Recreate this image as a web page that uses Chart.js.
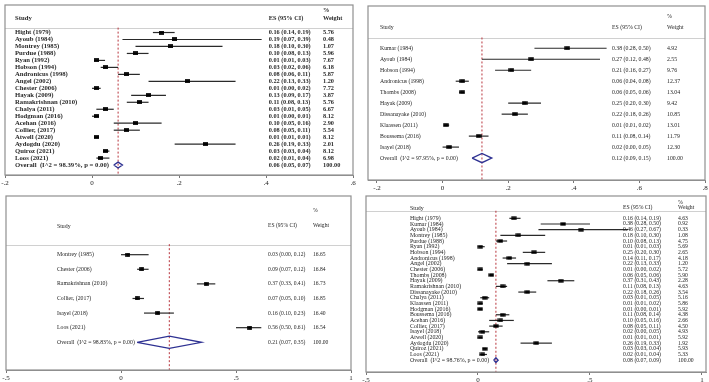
<!DOCTYPE html>
<html lang="en">
<head>
<meta charset="UTF-8" />
<title>Forest plots</title>
<script src="https://cdn.jsdelivr.net/npm/chart.js"></script>
<style>
  html, body { margin: 0; padding: 0; background: #fff; overflow: hidden; }
  #wrap { position: relative; width: 709px; height: 382px; overflow: hidden; }
  #wrap canvas { position: absolute; }
</style>
</head>
<body>
<div id="wrap"></div>
<script>
// ---- panel A (top left) ----
const aStudies = ['Hight (1979)', 'Ayoub (1984)', 'Montrey (1985)', 'Purdue (1988)', 'Ryan (1992)', 'Hobson (1994)',
  'Andronicus (1998)', 'Angel (2002)', 'Chester (2006)', 'Hayak (2009)', 'Ramakrishnan (2010)', 'Chalya (2011)',
  'Hodgman (2016)', 'Acehan (2016)', 'Collier, (2017)', 'Atwell (2020)', 'Aydogdu (2020)', 'Quiroz (2021)', 'Loos (2021)'];
const aEs = [0.16, 0.19, 0.18, 0.10, 0.01, 0.03, 0.08, 0.22, 0.01, 0.13, 0.11, 0.03, 0.01, 0.10, 0.08, 0.01, 0.26, 0.03, 0.02];
const aLo = [0.14, 0.07, 0.10, 0.08, 0.01, 0.02, 0.06, 0.13, 0.00, 0.09, 0.08, 0.01, 0.00, 0.05, 0.05, 0.01, 0.19, 0.03, 0.01];
const aHi = [0.19, 0.39, 0.30, 0.13, 0.03, 0.06, 0.11, 0.33, 0.02, 0.17, 0.13, 0.05, 0.01, 0.16, 0.11, 0.01, 0.33, 0.04, 0.04];
const aWt = [5.76, 0.48, 1.07, 5.96, 7.67, 6.18, 5.87, 1.20, 7.72, 3.87, 5.76, 6.67, 8.12, 2.90, 5.54, 8.12, 2.01, 8.12, 6.98];
const aOverall = [0.06, 0.05, 0.07];
const aI2 = 98.39;
const aTicks = [-0.2, 0, 0.2, 0.4, 0.6];

// ---- panel B (top right) ----
const bStudies = ['Kumar (1984)', 'Ayoub (1984)', 'Hobson (1994)', 'Andronicus (1998)', 'Thombs (2008)', 'Hayak (2009)',
  'Dissanayake (2010)', 'Klaassen (2011)', 'Boussema (2016)', 'Isayel (2018)'];
const bEs = [0.38, 0.27, 0.21, 0.06, 0.06, 0.25, 0.22, 0.01, 0.11, 0.02];
const bLo = [0.28, 0.12, 0.16, 0.04, 0.05, 0.20, 0.18, 0.01, 0.08, 0.00];
const bHi = [0.50, 0.48, 0.27, 0.08, 0.06, 0.30, 0.26, 0.02, 0.14, 0.05];
const bWt = [4.92, 2.55, 9.76, 12.37, 13.04, 9.42, 10.85, 13.01, 11.79, 12.30];
const bOverall = [0.12, 0.09, 0.15];
const bI2 = 97.95;
const bTicks = [-0.2, 0, 0.2, 0.4, 0.6, 0.8];

// ---- panel C (bottom left) ----
const cStudies = ['Montrey (1985)', 'Chester (2006)', 'Ramakrishnan (2010)', 'Collier, (2017)', 'Isayel (2018)', 'Loos (2021)'];
const cEs = [0.03, 0.09, 0.37, 0.07, 0.16, 0.56];
const cLo = [0.00, 0.07, 0.33, 0.05, 0.10, 0.50];
const cHi = [0.12, 0.12, 0.41, 0.10, 0.23, 0.61];
const cWt = [16.65, 16.84, 16.73, 16.85, 16.40, 16.54];
const cOverall = [0.21, 0.07, 0.35];
const cI2 = 98.83;
const cTicks = [-0.5, 0, 0.5, 1];

// ---- panel D (bottom right) ----
const dStudies = ['Hight (1979)', 'Kumar (1984)', 'Ayoub (1984)', 'Montrey (1985)', 'Purdue (1988)', 'Ryan (1992)',
  'Hobson (1994)', 'Andronicus (1998)', 'Angel (2002)', 'Chester (2006)', 'Thombs (2008)', 'Hayak (2009)',
  'Ramakrishnan (2010)', 'Dissanayake (2010)', 'Chalya (2011)', 'Klaassen (2011)', 'Hodgman (2016)', 'Boussema (2016)',
  'Acehan (2016)', 'Collier, (2017)', 'Isayel (2018)', 'Atwell (2020)', 'Aydogdu (2020)', 'Quiroz (2021)', 'Loos (2021)'];
const dEs = [0.16, 0.38, 0.46, 0.18, 0.10, 0.01, 0.25, 0.14, 0.22, 0.01, 0.06, 0.37, 0.11, 0.22, 0.03, 0.01, 0.01, 0.11, 0.10, 0.08, 0.02, 0.01, 0.26, 0.03, 0.02];
const dLo = [0.14, 0.28, 0.27, 0.10, 0.08, 0.01, 0.20, 0.11, 0.13, 0.00, 0.05, 0.31, 0.08, 0.18, 0.01, 0.01, 0.00, 0.08, 0.05, 0.05, 0.00, 0.01, 0.19, 0.03, 0.01];
const dHi = [0.19, 0.50, 0.67, 0.30, 0.13, 0.03, 0.30, 0.17, 0.33, 0.02, 0.06, 0.43, 0.13, 0.26, 0.05, 0.02, 0.01, 0.14, 0.16, 0.11, 0.05, 0.01, 0.33, 0.04, 0.04];
const dWt = [4.63, 0.92, 0.33, 1.08, 4.75, 5.69, 2.65, 4.18, 1.20, 5.72, 5.90, 2.28, 4.63, 3.54, 5.16, 5.86, 5.92, 4.38, 2.66, 4.50, 4.93, 5.92, 1.92, 5.93, 5.33];
const dOverall = [0.08, 0.07, 0.09];
const dI2 = 98.76;
const dTicks = [-0.5, 0, 0.5, 1];

// page layout of each panel (pixels)
const layouts = {
  a: { box: [5, 2, 353, 175], xMin: -0.2, xMax: 0.6, row0: 30, step: 7.1, pctY: 7.3, hdrY: 15.7, lineY: 25,
       nameX: 15, esX: 268.7, wtX: 323, nameSize: 6.7, numSize: 6.3, weight: 'bold', mark: [5, 3.7] },
  b: { box: [368, 3, 705, 180], xMin: -0.2274, xMax: 0.8, row0: 46, step: 11.17, pctY: 13, hdrY: 24, lineY: 35,
       nameX: 380, esX: 612, wtX: 667, nameSize: 5.8, numSize: 5.8, weight: 'normal', mark: [5.5, 3.5] },
  c: { box: [6, 193, 351, 370], xMin: -0.5, xMax: 1.0, row0: 252.7, step: 14.85, pctY: 208, hdrY: 223, lineY: 242,
       nameX: 57, esX: 268, wtX: 313, nameSize: 5.8, numSize: 5.6, weight: 'normal', mark: [4.7, 3.7] },
  d: { box: [366, 193, 706, 372], xMin: -0.5, xMax: 1.018, row0: 215.7, step: 5.77, pctY: 200, hdrY: 205, lineY: 208,
       nameX: 410, esX: 623, wtX: 678, nameSize: 5.9, numSize: 5.7, weight: 'normal', mark: [5.3, 3.3] }
};

const SERIF = '"Liberation Serif", "DejaVu Serif", serif';
const PAD = 14, AXIS_H = 14;

const stataTick = v => {
  if (Math.abs(v) < 1e-9) return '0';
  return (v < 0 ? '-' : '') + Math.abs(v).toString().replace(/^0\./, '.');
};
const f2 = v => v.toFixed(2);

function boxMark(w, h) {
  const c = document.createElement('canvas');
  c.width = Math.ceil(w);
  c.height = Math.ceil(h);
  const g = c.getContext('2d');
  g.fillStyle = '#000';
  g.fillRect((c.width - w) / 2, (c.height - h) / 2, w, h);
  return c;
}

function decorPlugin(p, L) {
  const n = p.studies.length;
  const px = (chart, x) => chart.chartArea.left + (x - L.box[0]);
  const py = (chart, y) => chart.chartArea.top + (y - L.box[1]);
  return {
    id: 'decor',
    beforeDatasetsDraw(chart) {
      const { ctx, chartArea: a } = chart;
      ctx.save();
      ctx.strokeStyle = '#d0d0d0';
      ctx.lineWidth = 1;
      ctx.beginPath();
      ctx.moveTo(a.left, Math.round(py(chart, L.lineY)) + 0.5);
      ctx.lineTo(a.right, Math.round(py(chart, L.lineY)) + 0.5);
      ctx.stroke();
      ctx.restore();
    },
    afterDraw(chart) {
      const { ctx, chartArea: a, scales: { y } } = chart;
      ctx.save();
      ctx.strokeStyle = '#8f8f8f';
      ctx.lineWidth = 1.2;
      ctx.strokeRect(a.left, a.top, a.right - a.left, a.bottom - a.top);

      ctx.fillStyle = L.weight === 'bold' ? '#2a2a2a' : '#1e1e1e';
      ctx.textBaseline = 'middle';
      ctx.textAlign = 'left';
      const nameFont = `${L.weight} ${L.nameSize}px ${SERIF}`;
      const numFont = `${L.weight} ${L.numSize}px ${SERIF}`;
      // header
      ctx.font = nameFont;
      ctx.fillText('Study', px(chart, L.nameX), py(chart, L.hdrY));
      ctx.font = numFont;
      ctx.fillText('ES (95% CI)', px(chart, L.esX), py(chart, L.hdrY));
      ctx.fillText('%', px(chart, L.wtX), py(chart, L.pctY));
      ctx.fillText('Weight', px(chart, L.wtX), py(chart, L.hdrY));
      // rows
      for (let i = 0; i <= n; i++) {
        const yy = y.getPixelForValue(i);
        const last = i === n;
        const name = last ? `Overall  (I^2 = ${f2(p.i2)}%, p = 0.00)` : p.studies[i];
        const es = last ? p.overall : [p.es[i], p.lo[i], p.hi[i]];
        const wt = last ? '100.00' : f2(p.wt[i]);
        ctx.font = nameFont;
        ctx.fillText(name, px(chart, L.nameX), yy);
        ctx.font = numFont;
        ctx.fillText(`${f2(es[0])} (${f2(es[1])}, ${f2(es[2])})`, px(chart, L.esX), yy);
        ctx.fillText(wt, px(chart, L.wtX), yy);
      }
      ctx.restore();
    }
  };
}

function drawPanel(p, L) {
  const [bl, bt, br, bb] = L.box;
  const canvas = document.createElement('canvas');
  const w = br - bl + 2 * PAD;
  const h = bb - bt + 2 + AXIS_H;
  canvas.width = w;
  canvas.height = h;
  canvas.style.left = (bl - PAD) + 'px';
  canvas.style.top = (bt - 2) + 'px';
  document.getElementById('wrap').appendChild(canvas);

  const n = p.studies.length;
  const yMin = (bt - L.row0) / L.step;
  const yMax = (bb - L.row0) / L.step;
  const lineRow = (L.lineY - L.row0) / L.step;
  const dh = 0.42;
  const [ov, ovLo, ovHi] = p.overall;

  const datasets = [];
  datasets.push({
    data: p.es.map((v, i) => ({ x: v, y: i })),
    pointStyle: boxMark(L.mark[0], L.mark[1]),
    pointRadius: 3,
    showLine: false,
    order: 0
  });
  datasets.push({
    data: [{ x: ovLo, y: n }, { x: ov, y: n - dh }, { x: ovHi, y: n }, { x: ov, y: n + dh }, { x: ovLo, y: n }],
    showLine: true,
    borderColor: '#2e3192',
    borderWidth: 1.3,
    pointRadius: 0,
    order: 1
  });
  p.lo.forEach((lo, i) => {
    datasets.push({
      data: [{ x: lo, y: i }, { x: p.hi[i], y: i }],
      showLine: true,
      borderColor: '#2a2a2a',
      borderWidth: 1.2,
      pointRadius: 0,
      order: 2
    });
  });
  datasets.push({
    data: [{ x: ov, y: lineRow }, { x: ov, y: yMax }],
    showLine: true,
    borderColor: '#b8343c',
    borderWidth: 1,
    borderDash: [2, 2],
    pointRadius: 0,
    order: 3
  });

  new Chart(canvas, {
    type: 'scatter',
    data: { datasets },
    options: {
      responsive: false,
      animation: false,
      events: [],
      layout: { padding: { left: PAD, right: PAD, top: 2, bottom: 0 } },
      plugins: { legend: { display: false }, tooltip: { enabled: false } },
      scales: {
        x: {
          type: 'linear',
          min: L.xMin,
          max: L.xMax,
          afterBuildTicks: s => { s.ticks = p.ticks.map(v => ({ value: v })); },
          afterFit: s => { s.height = AXIS_H; },
          grid: { drawOnChartArea: false, tickLength: 3, color: '#777' },
          border: { color: '#8f8f8f' },
          ticks: { font: { family: SERIF, size: 7 }, color: '#222', padding: 1, maxRotation: 0, autoSkip: false, callback: stataTick }
        },
        y: { type: 'linear', display: false, reverse: true, min: yMin, max: yMax }
      }
    },
    plugins: [decorPlugin(p, L)]
  });
}

drawPanel({ studies: aStudies, es: aEs, lo: aLo, hi: aHi, wt: aWt, overall: aOverall, i2: aI2, ticks: aTicks }, layouts.a);
drawPanel({ studies: bStudies, es: bEs, lo: bLo, hi: bHi, wt: bWt, overall: bOverall, i2: bI2, ticks: bTicks }, layouts.b);
drawPanel({ studies: cStudies, es: cEs, lo: cLo, hi: cHi, wt: cWt, overall: cOverall, i2: cI2, ticks: cTicks }, layouts.c);
drawPanel({ studies: dStudies, es: dEs, lo: dLo, hi: dHi, wt: dWt, overall: dOverall, i2: dI2, ticks: dTicks }, layouts.d);
</script>
</body>
</html>
